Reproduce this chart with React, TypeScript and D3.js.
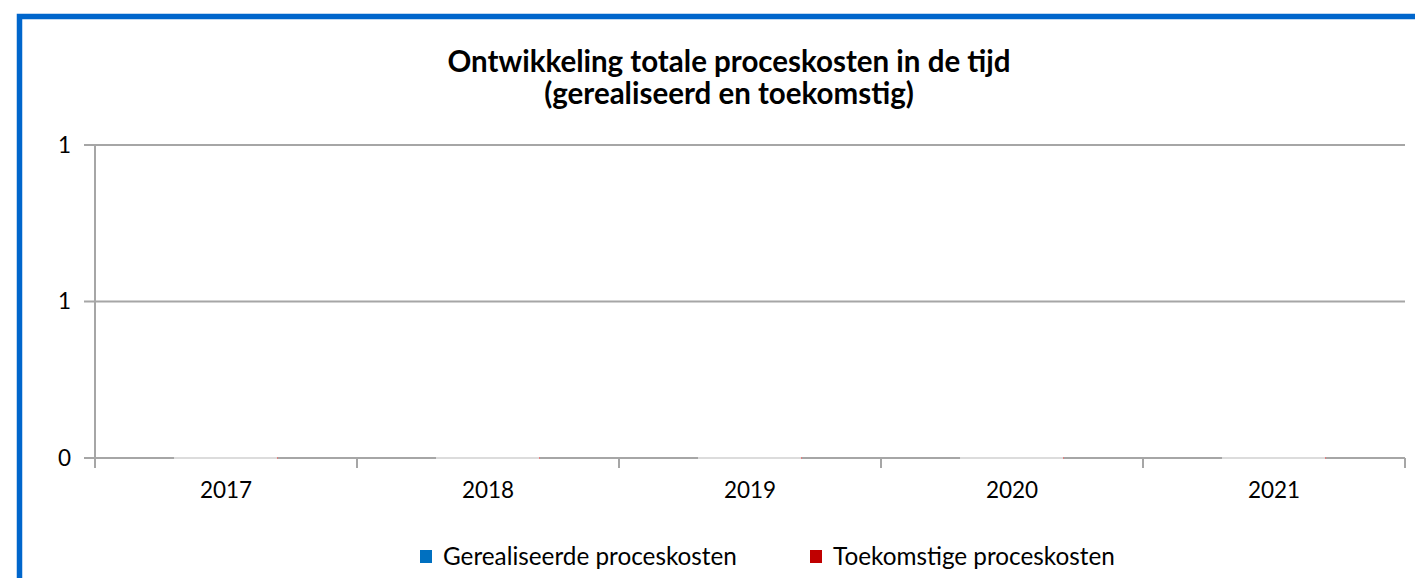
import React from "react";
import * as d3 from "d3";

const categories = ["2017", "2018", "2019", "2020", "2021"];
const seriesNames = ["Gerealiseerde proceskosten", "Toekomstige proceskosten"];
const realised = [0, 0, 0, 0, 0];
const future = [0, 0, 0, 0, 0];
const yTicks = [0, 0.5, 1];
const titleLines = ["Ontwikkeling totale proceskosten in de tijd", "(gerealiseerd en toekomstig)"];
const colors = ["#0070c0", "#c00000"];

export default function App() {
  const W = 1415, H = 578;
  const left = 95, right = 1405, top = 145, bottom = 458;
  const x = d3.scaleBand<string>().domain(categories).range([left, right]).paddingInner(0).paddingOuter(0);
  const inner = d3.scaleBand<string>().domain(seriesNames).range([0, x.bandwidth()]).paddingInner(0).paddingOuter(1.52);
  const y = d3.scaleLinear().domain([0, 1]).range([bottom, top]);
  const fmt = (v: number) => String(Math.round(v));
  const font = "Lato, 'Open Sans', sans-serif";
  const series = [realised, future];

  return (
    <svg width={W} height={H} style={{ position: "absolute", left: 0, top: 0, background: "#fff" }} fontFamily={font}>
      <rect x={19.5} y={16.5} width={1500} height={700} fill="#fff" stroke="#0066cc" strokeWidth={5.5} />
      <text textAnchor="middle" fontSize={29.5} fontWeight="bold" fill="#000">
        <tspan x={729} y={72}>{titleLines[0]}</tspan>
        <tspan x={729} y={104}>{titleLines[1]}</tspan>
      </text>
      {yTicks.map((t) => (
        <g key={t}>
          <line x1={84} x2={right} y1={y(t)} y2={y(t)} stroke="#a6a6a6" strokeWidth={2} />
          <text x={71} y={y(t)} dy="0.35em" textAnchor="end" fontSize={22.5} fill="#000">{fmt(t)}</text>
        </g>
      ))}
      <line x1={left} x2={left} y1={top} y2={468} stroke="#a6a6a6" strokeWidth={2} />
      {categories.map((c, i) => (
        <g key={c}>
          <line x1={(x(c) as number) + x.bandwidth()} x2={(x(c) as number) + x.bandwidth()} y1={bottom} y2={468} stroke="#a6a6a6" strokeWidth={2} />
          <text x={(x(c) as number) + x.bandwidth() / 2} y={498} textAnchor="middle" fontSize={22.5} fill="#000">{c}</text>
          {seriesNames.map((s, j) => {
            const bx = (x(c) as number) + (inner(s) as number);
            const v = series[j][i];
            return (
              <g key={s}>
                <rect x={bx} y={y(v)} width={inner.bandwidth()} height={y(0) - y(v)} fill={colors[j]} />
                <line x1={bx} x2={bx + inner.bandwidth()} y1={y(0)} y2={y(0)} stroke="#dcdcdc" strokeWidth={2} />
              </g>
            );
          })}
          <line x1={(x(c) as number) + (inner(seriesNames[1]) as number) + inner.bandwidth() - 1} x2={(x(c) as number) + (inner(seriesNames[1]) as number) + inner.bandwidth()} y1={y(0)} y2={y(0)} stroke="#e08080" strokeWidth={2} />
        </g>
      ))}
      {seriesNames.map((s, j) => {
        const lx = j === 0 ? 420 : 810;
        return (
          <g key={s}>
            <rect x={lx} y={550} width={12} height={13} fill={colors[j]} />
            <text x={lx + 23} y={565} fontSize={24.3} fill="#000">{s}</text>
          </g>
        );
      })}
    </svg>
  );
}
